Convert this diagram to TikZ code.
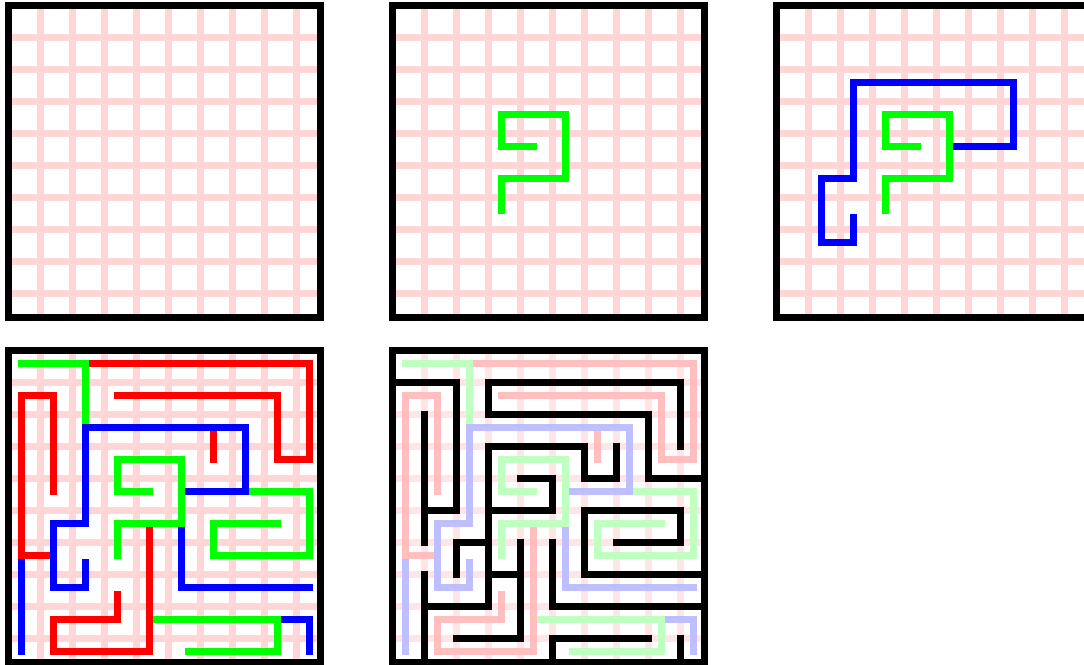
\documentclass[tikz,border=0pt]{standalone}
\usepackage{tikz}

\definecolor{gridpink}{RGB}{255,213,213}
\definecolor{palepink}{RGB}{255,230,230}

\newcommand\drawgrid[1]{%
  \foreach \k in {1,...,9}
    \draw[#1] (\k,0) -- (\k,9.75) (0,\k) -- (9.75,\k);}
\newcommand\greenwalk[1]{%
  \draw[walk,#1] (4,4) -- (3,4) -- (3,3) -- (5,3) -- (5,5) -- (3,5) -- (3,6);}
\newcommand\bluewalk[1]{%
  \draw[walk,#1] (5,4) -- (7,4) -- (7,2) -- (2,2) -- (2,5) -- (1,5) -- (1,7) -- (2,7) -- (2,6.2);}
\newcommand\spantree[3]{%
  \draw[walk,#3] (0,6) -- (0,9);
  \draw[walk,#1] (1,4) -- (1,1) -- (0,1) -- (0,6) -- (1,6);
  \draw[walk,#1] (3,1) -- (8,1) -- (8,3) -- (9,3) -- (9,0) -- (2,0);
  \draw[walk,#1] (6,3) -- (6,2);
  \draw[walk,#2] (0,0) -- (2,0) -- (2,2);
  \draw[walk,#2] (8,5) -- (6,5) -- (6,6) -- (9,6) -- (9,4) -- (7,4);
  \bluewalk{#3}
  \draw[walk,#3] (8,8) -- (9,8) -- (9,9);
  \draw[walk,#2] (5.2,9) -- (8,9) -- (8,8) -- (4,8);
  \draw[walk,#1] (3,7.2) -- (3,8) -- (1,8) -- (1,9) -- (4,9) -- (4,5);
  \draw[walk,#3] (5,5) -- (5,7) -- (9,7);
  \greenwalk{#2}}

\begin{document}
\begin{tikzpicture}[line width=6.4pt]
\tikzstyle{walk} = [line cap=rect, line join=miter]
\tikzstyle{frame} = [black, line join=miter]
\tikzstyle{wall} = [black, line cap=rect, line join=miter]
\useasboundingbox (0,0) rectangle (1084pt,-664pt);

\begin{scope}[xshift=8.5pt, yshift=-5.5pt, x=32pt, y=-32pt]
  \drawgrid{gridpink}
  \draw[frame] (0,0) rectangle (9.75,9.75);
\end{scope}

\begin{scope}[xshift=392.5pt, yshift=-5.5pt, x=32pt, y=-32pt]
  \drawgrid{gridpink}
  \begin{scope}[shift={(0.406,0.406)}]
    \greenwalk{green}
  \end{scope}
  \draw[frame] (0,0) rectangle (9.75,9.75);
\end{scope}

\begin{scope}[xshift=776.5pt, yshift=-5.5pt, x=32pt, y=-32pt]
  \drawgrid{gridpink}
  \begin{scope}[shift={(0.406,0.406)}]
    \bluewalk{blue}
    \greenwalk{green}
  \end{scope}
  \draw[frame] (0,0) rectangle (9.75,9.75);
\end{scope}

\begin{scope}[xshift=8.5pt, yshift=-350.5pt, x=32pt, y=-32pt]
  \drawgrid{gridpink}
  \begin{scope}[shift={(0.406,0.406)}]
    \spantree{red}{green}{blue}
  \end{scope}
  \draw[frame] (0,0) rectangle (9.75,9.75);
\end{scope}

\begin{scope}[xshift=392.5pt, yshift=-350.5pt, x=32pt, y=-32pt]
  \drawgrid{palepink}
  \begin{scope}[shift={(0.406,0.406)}]
    \spantree{red!25}{green!25}{blue!25}
  \end{scope}
  \draw[wall] (1,5) -- (2,5) -- (2,1) -- (0,1);
  \draw[wall] (1,2) -- (1,6);
  \draw[wall] (9,3) -- (9,1) -- (3,1) -- (3,2) -- (8,2) -- (8,4) -- (9.75,4);
  \draw[wall] (7,3) -- (7,4) -- (6,4) -- (6,3) -- (3,3) -- (3,8) -- (1,8);
  \draw[wall] (4,4) -- (5,4) -- (5,5) -- (3,5);
  \draw[wall] (2,7) -- (2,6) -- (3,6);
  \draw[wall] (3,7) -- (4,7);
  \draw[wall] (4,6) -- (4,9) -- (2,9);
  \draw[wall] (1,7) -- (1,9.75);
  \draw[wall] (9.75,7) -- (6,7) -- (6,5) -- (9,5) -- (9,6) -- (7,6);
  \draw[wall] (5,6) -- (5,8) -- (9.75,8);
  \draw[wall] (5,9.75) -- (5,9) -- (8,9);
  \draw[wall] (9,9) -- (9,9.75);
  \draw[frame] (0,0) rectangle (9.75,9.75);
\end{scope}
\end{tikzpicture}
\end{document}
